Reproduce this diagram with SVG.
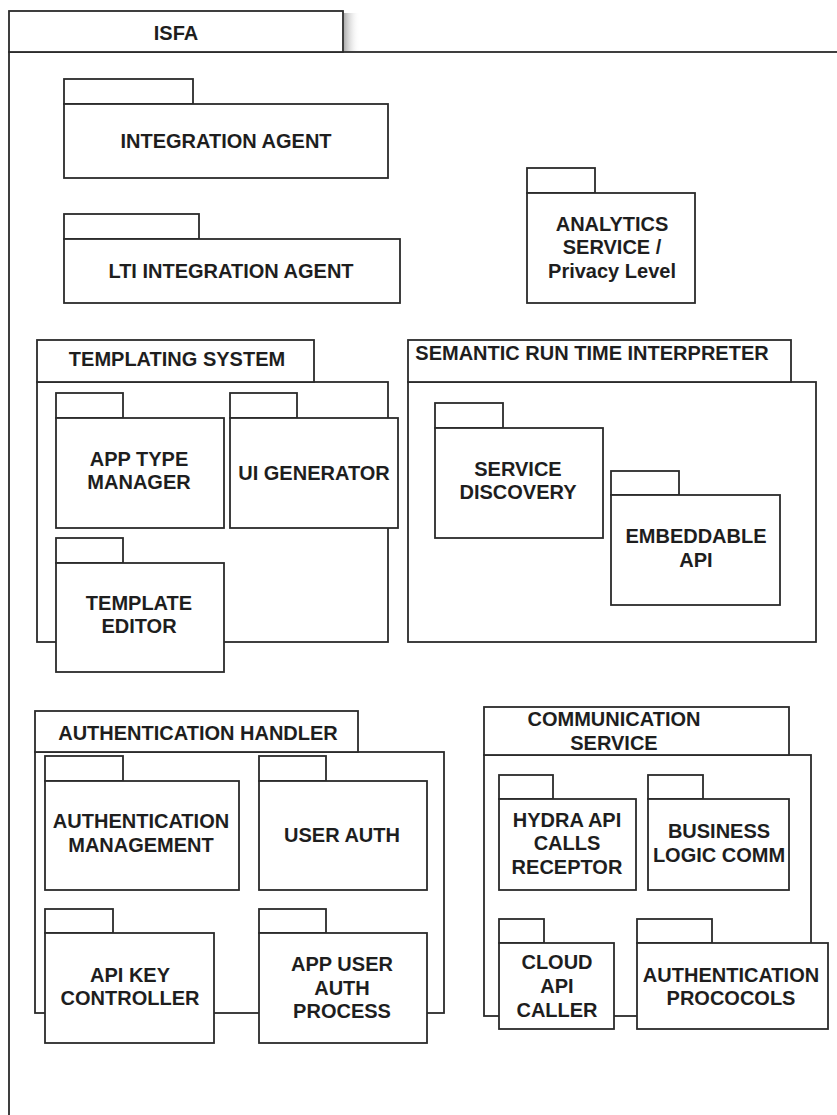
<svg xmlns="http://www.w3.org/2000/svg" width="837" height="1115" viewBox="0 0 837 1115">
  <defs>
    <style>
      .pk { fill: #ffffff; stroke: #2b2b2b; stroke-width: 1.8; }
      .t { font-family: "Liberation Sans", Arial, Helvetica, sans-serif; font-weight: bold; font-size: 20px; fill: #1e1e1e; text-anchor: middle; }
    </style>
    <linearGradient id="tabShade" x1="0" y1="0" x2="1" y2="0">
      <stop offset="0" stop-color="#9a9a9a" stop-opacity="0.8"/>
      <stop offset="1" stop-color="#ffffff" stop-opacity="0"/>
    </linearGradient>
  </defs>
  <rect x="0" y="0" width="837" height="1115" fill="#ffffff"/>

  <!-- Outer ISFA package frame -->
  <g id="isfa">
    <rect x="344" y="13" width="16" height="38" fill="url(#tabShade)"/>
    <rect class="pk" x="9" y="52" width="900" height="1100"/>
    <rect class="pk" x="9" y="11" width="334" height="41"/>
    <text class="t" x="176" y="40">ISFA</text>
  </g>

  <g id="integration-agent">
    <rect class="pk" x="64" y="79" width="129" height="25"/>
    <rect class="pk" x="64" y="104" width="324" height="74"/>
    <text class="t" x="226" y="148">INTEGRATION AGENT</text>
  </g>

  <g id="lti-integration-agent">
    <rect class="pk" x="64" y="214" width="135" height="25"/>
    <rect class="pk" x="64" y="239" width="336" height="64"/>
    <text class="t" x="231" y="278">LTI INTEGRATION AGENT</text>
  </g>

  <g id="analytics-service">
    <rect class="pk" x="527" y="168" width="68" height="25"/>
    <rect class="pk" x="527" y="193" width="168" height="110"/>
    <text class="t" x="612" y="231">ANALYTICS</text>
    <text class="t" x="612" y="254">SERVICE /</text>
    <text class="t" x="612" y="278">Privacy Level</text>
  </g>

  <!-- Templating system and its parts -->
  <g id="templating-system">
    <rect class="pk" x="37" y="382" width="351" height="260"/>
    <rect class="pk" x="37" y="340" width="277" height="42"/>
    <text class="t" x="177" y="366">TEMPLATING SYSTEM</text>
  </g>
  <g id="app-type-manager">
    <rect class="pk" x="56" y="393" width="67" height="25"/>
    <rect class="pk" x="56" y="418" width="168" height="110"/>
    <text class="t" x="139" y="466">APP TYPE</text>
    <text class="t" x="139" y="489">MANAGER</text>
  </g>
  <g id="ui-generator">
    <rect class="pk" x="230" y="393" width="67" height="25"/>
    <rect class="pk" x="230" y="418" width="168" height="110"/>
    <text class="t" x="314" y="480">UI GENERATOR</text>
  </g>
  <g id="template-editor">
    <rect class="pk" x="56" y="538" width="67" height="25"/>
    <rect class="pk" x="56" y="563" width="168" height="109"/>
    <text class="t" x="139" y="610">TEMPLATE</text>
    <text class="t" x="139" y="633">EDITOR</text>
  </g>

  <!-- Semantic run time interpreter and its parts -->
  <g id="semantic-run-time-interpreter">
    <rect class="pk" x="408" y="382" width="408" height="260"/>
    <rect class="pk" x="408" y="340" width="383" height="42"/>
    <text class="t" x="592" y="360">SEMANTIC RUN TIME INTERPRETER</text>
  </g>
  <g id="service-discovery">
    <rect class="pk" x="435" y="403" width="68" height="25"/>
    <rect class="pk" x="435" y="428" width="168" height="110"/>
    <text class="t" x="518" y="476">SERVICE</text>
    <text class="t" x="518" y="499">DISCOVERY</text>
  </g>
  <g id="embeddable-api">
    <rect class="pk" x="611" y="471" width="68" height="24"/>
    <rect class="pk" x="611" y="495" width="169" height="110"/>
    <text class="t" x="696" y="543">EMBEDDABLE</text>
    <text class="t" x="696" y="567">API</text>
  </g>

  <!-- Authentication handler and its parts -->
  <g id="authentication-handler">
    <rect class="pk" x="35" y="752" width="409" height="261"/>
    <rect class="pk" x="35" y="711" width="323" height="41"/>
    <text class="t" x="198" y="740">AUTHENTICATION HANDLER</text>
  </g>
  <g id="authentication-management">
    <rect class="pk" x="45" y="756" width="78" height="25"/>
    <rect class="pk" x="45" y="781" width="194" height="109"/>
    <text class="t" x="141" y="828">AUTHENTICATION</text>
    <text class="t" x="141" y="852">MANAGEMENT</text>
  </g>
  <g id="user-auth">
    <rect class="pk" x="259" y="756" width="67" height="25"/>
    <rect class="pk" x="259" y="781" width="168" height="109"/>
    <text class="t" x="342" y="842">USER AUTH</text>
  </g>
  <g id="api-key-controller">
    <rect class="pk" x="45" y="909" width="68" height="24"/>
    <rect class="pk" x="45" y="933" width="169" height="110"/>
    <text class="t" x="130" y="982">API KEY</text>
    <text class="t" x="130" y="1005">CONTROLLER</text>
  </g>
  <g id="app-user-auth-process">
    <rect class="pk" x="259" y="909" width="67" height="24"/>
    <rect class="pk" x="259" y="933" width="168" height="110"/>
    <text class="t" x="342" y="971">APP USER</text>
    <text class="t" x="342" y="995">AUTH</text>
    <text class="t" x="342" y="1018">PROCESS</text>
  </g>

  <!-- Communication service and its parts -->
  <g id="communication-service">
    <rect class="pk" x="484" y="755" width="327" height="261"/>
    <rect class="pk" x="484" y="707" width="305" height="48"/>
    <text class="t" x="614" y="726">COMMUNICATION</text>
    <text class="t" x="614" y="750">SERVICE</text>
  </g>
  <g id="hydra-api-calls-receptor">
    <rect class="pk" x="499" y="775" width="54" height="24"/>
    <rect class="pk" x="499" y="799" width="137" height="91"/>
    <text class="t" x="567" y="827">HYDRA API</text>
    <text class="t" x="567" y="850">CALLS</text>
    <text class="t" x="567" y="874">RECEPTOR</text>
  </g>
  <g id="business-logic-comm">
    <rect class="pk" x="648" y="775" width="55" height="24"/>
    <rect class="pk" x="648" y="799" width="141" height="91"/>
    <text class="t" x="719" y="838">BUSINESS</text>
    <text class="t" x="719" y="862">LOGIC COMM</text>
  </g>
  <g id="cloud-api-caller">
    <rect class="pk" x="499" y="919" width="45" height="24"/>
    <rect class="pk" x="499" y="943" width="115" height="86"/>
    <text class="t" x="557" y="969">CLOUD</text>
    <text class="t" x="557" y="993">API</text>
    <text class="t" x="557" y="1017">CALLER</text>
  </g>
  <g id="authentication-protocols">
    <rect class="pk" x="637" y="919" width="75" height="24"/>
    <rect class="pk" x="637" y="943" width="191" height="86"/>
    <text class="t" x="731" y="982">AUTHENTICATION</text>
    <text class="t" x="731" y="1005">PROCOCOLS</text>
  </g>

  <!-- No connectors are drawn between packages -->
  <g id="connectors"/>
</svg>
